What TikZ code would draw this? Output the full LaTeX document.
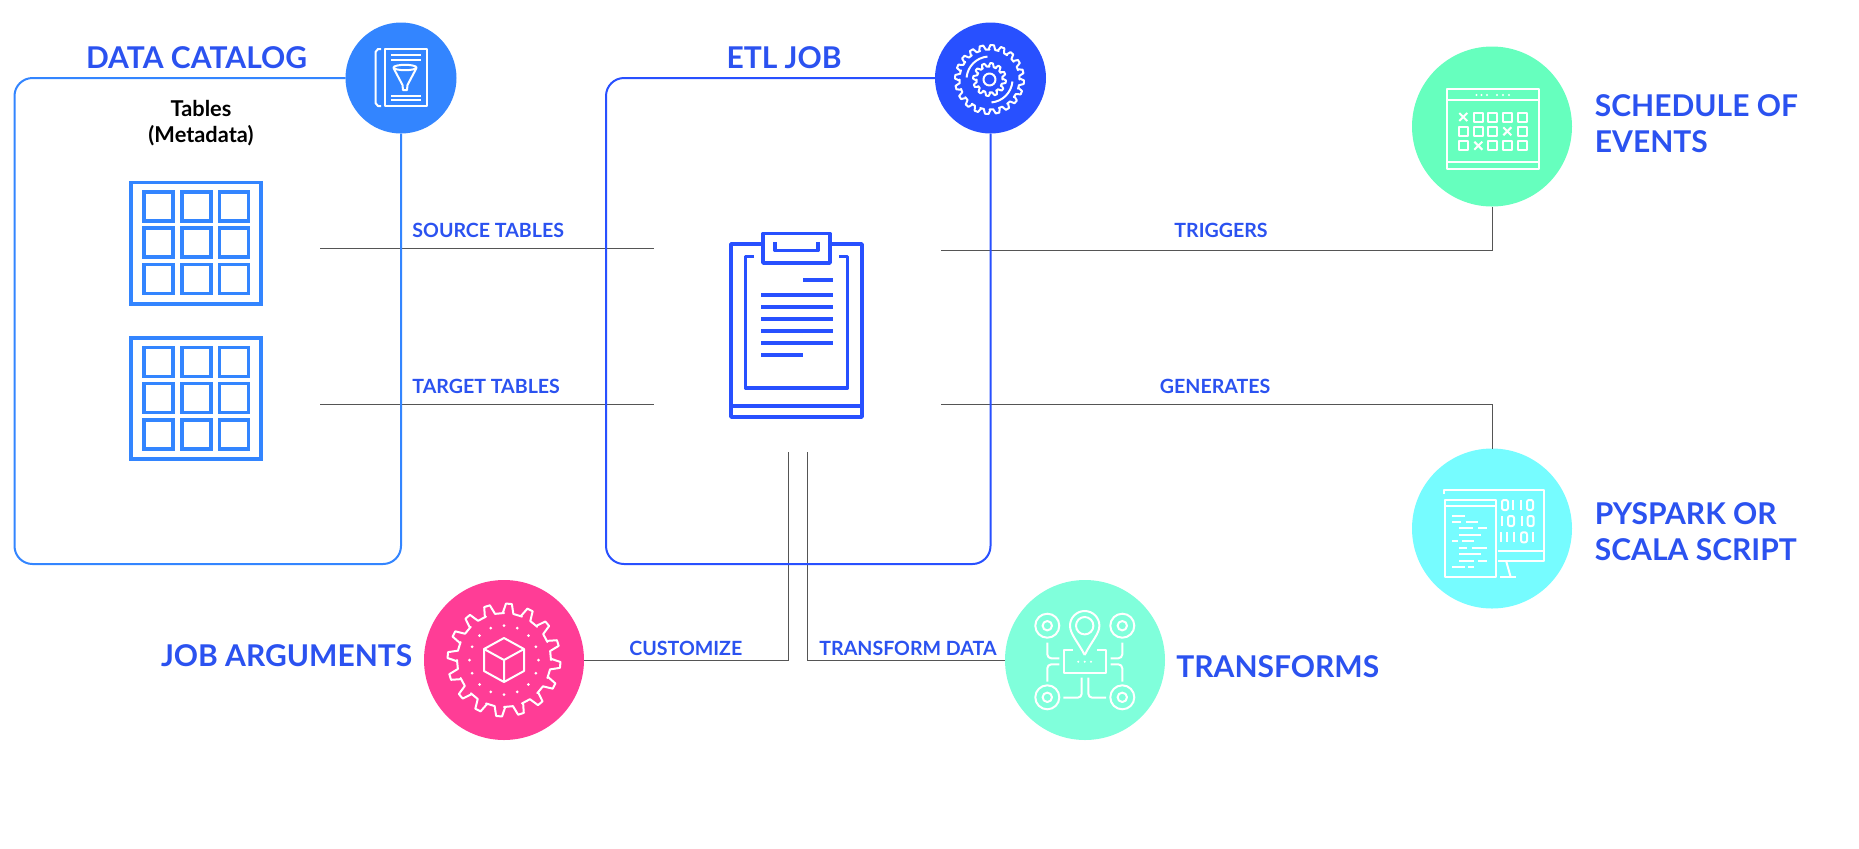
\documentclass[tikz,border=0pt]{standalone}
\usepackage{fontspec}
\setmainfont{Lato}
\usepackage{tikz}
\definecolor{catblue}{HTML}{3385FF}
\definecolor{etlblue}{HTML}{2850FF}
\definecolor{textblue}{HTML}{2B52F0}
\definecolor{schedgreen}{HTML}{66FFBE}
\definecolor{scriptcyan}{HTML}{76FCFF}
\definecolor{argpink}{HTML}{FF3D96}
\definecolor{transmint}{HTML}{80FFDB}
\definecolor{wiregray}{HTML}{555555}
\tikzset{
    hub/.style={shape=circle, minimum size=160*0.5pt, inner sep=0pt, outer sep=0pt},
    smallhub/.style={shape=circle, minimum size=111*0.5pt, inner sep=0pt, outer sep=0pt},
    bigtitle/.style={text=textblue, font=\bfseries\fontsize{15}{18}\selectfont, inner sep=0pt, align=left},
    wirelabel/.style={text=textblue, font=\bfseries\fontsize{9.8}{12}\selectfont, inner sep=0pt},
    tablecap/.style={text=black, font=\bfseries\fontsize{10.9}{13.3}\selectfont, inner sep=0pt, align=center},
    wire/.style={draw=wiregray, line width=0.5pt},
    framebox/.style={line width=1pt, rounded corners=9pt},
    iconline/.style={draw=white, line width=1pt, line join=round},
    tableline/.style={draw=catblue, line width=1.9pt},
    clipline/.style={draw=etlblue, line width=1.85pt, line join=round}
}
\begin{document}
\begin{tikzpicture}[x=0.5pt, y=-0.5pt]
    \useasboundingbox (0, 0) rectangle (1859, 848);

    \node[hub, fill=schedgreen] (schedule) at (1492, 126.5) {};
    \node[hub, fill=scriptcyan] (script) at (1492, 528.5) {};
    \node[hub, fill=argpink] (arguments) at (504, 660) {};
    \node[hub, fill=transmint] (transforms) at (1085, 660) {};
    \node[smallhub, fill=catblue] (catalog) at (401, 78) {};
    \node[smallhub, fill=etlblue] (etl) at (990.5, 78) {};

    \coordinate (sourceL) at (320, 248.2);
    \coordinate (sourceR) at (654, 248.2);
    \coordinate (targetL) at (320, 404.4);
    \coordinate (targetR) at (654, 404.4);
    \coordinate (triggerL) at (941, 250.5);
    \coordinate (generateL) at (941, 404.4);
    \coordinate (customizeT) at (788, 452);
    \coordinate (transformT) at (807, 452);

    \path [wire] (sourceL) edge (sourceR);
    \path [wire] (targetL) edge (targetR);
    \draw [wire] (triggerL) -| (schedule.south);
    \draw [wire] (generateL) -| (script.north);
    \draw [wire] (customizeT) |- (arguments.east);
    \draw [wire] (transformT) |- (transforms.west);

    \draw [framebox, draw=catblue] (catalog.west) -- (14.5, 78) -- (14.5, 564) -- (401, 564) -- (catalog.south);
    \draw [framebox, draw=etlblue] (etl.west) -- (606, 78) -- (606, 564) -- (990.5, 564) -- (etl.south);

    \node[bigtitle] (catalogtitle) at (196.5, 58) {DATA CATALOG};
    \node[bigtitle] (etltitle) at (784, 58) {ETL JOB};
    \node[tablecap] (tablecap) at (201, 123) {Tables\\(Metadata)};
    \node[wirelabel, anchor=west] (sourcelabel) at (412, 230) {SOURCE TABLES};
    \node[wirelabel, anchor=west] (targetlabel) at (412, 386.6) {TARGET TABLES};
    \node[wirelabel, anchor=west] (triggerlabel) at (1174, 230.5) {TRIGGERS};
    \node[wirelabel, anchor=west] (generatelabel) at (1159.5, 386.6) {GENERATES};
    \node[wirelabel, anchor=west] (customizelabel) at (629, 648) {CUSTOMIZE};
    \node[wirelabel, anchor=west] (transformlabel) at (819, 648) {TRANSFORM DATA};
    \node[bigtitle, anchor=west] (scheduletitle) at (1594.5, 124) {SCHEDULE OF\\EVENTS};
    \node[bigtitle, anchor=west] (scripttitle) at (1594.5, 531.7) {PYSPARK OR\\SCALA SCRIPT};
    \node[bigtitle, anchor=east] (argumentstitle) at (412.6, 656) {JOB ARGUMENTS};
    \node[bigtitle, anchor=west] (transformstitle) at (1176, 666.7) {TRANSFORMS};

    % tables
    \foreach \ty in {0, 155.6} {
        \draw [tableline] (131, 182.5+\ty) rectangle (261, 303.6+\ty);
        \foreach \cx in {144, 182, 219.5} {
            \foreach \cy in {192, 228, 264.5} {
                \draw [tableline, line width=1.7pt] (\cx, \cy+\ty) rectangle (\cx+29, \cy+29+\ty);
            }
        }
    }

    % clipboard
    \draw [clipline] (763, 244) -- (731, 244) -- (731, 417) -- (862, 417) -- (862, 244) -- (830, 244);
    \draw [clipline] (731, 406) -- (862, 406);
    \draw [clipline] (763, 233.5) rectangle (830, 263);
    \draw [clipline] (775, 242) -- (775, 250.5) -- (818, 250.5) -- (818, 242);
    \draw [clipline] (754, 256.5) -- (745.5, 256.5) -- (745.5, 388) -- (847.5, 388) -- (847.5, 256.5) -- (839, 256.5);
    \draw [clipline] (803, 280) -- (833, 280);
    \foreach \ly in {295, 307, 319, 331, 343} {
        \draw [clipline] (761, \ly) -- (833, \ly);
    }
    \draw [clipline] (761, 355) -- (803, 355);

    % catalog icon
    \draw [iconline] (384.5, 49) rectangle (426.5, 106);
    \draw [iconline] (381, 49) -- (378, 49) -- (375.5, 52) -- (375.5, 103) -- (378, 106) -- (381, 106);
    \foreach \ly in {55, 59.5, 95.5, 100} {
        \draw [iconline] (391, \ly) -- (421, \ly);
    }
    \draw [iconline] (405, 67.5) ellipse (11.5 and 2.7);
    \draw [iconline] (393.5, 68) -- (402.5, 85) -- (403, 90) -- (407, 90) -- (407.5, 85) -- (416.5, 68);

    % etl gears
    \begin{scope}[shift={(989.5, 79.5)}]
        \draw [iconline] (0:30) \foreach \a in {0, 18, ..., 342} {
            -- (\a-2:30) -- (\a+1.5:34.5) -- (\a+7.5:34.5) -- (\a+11:30) -- (\a+18:30)
        } -- cycle;
        \draw [iconline] (0:13) \foreach \a in {0, 30, ..., 330} {
            -- (\a-4:13) -- (\a+3:16.5) -- (\a+12:16.5) -- (\a+19:13) -- (\a+30:13)
        } -- cycle;
        \draw [iconline] (0, 0) circle (6);
        \draw [iconline] (-95:23) arc (-95:-175:23);
        \draw [iconline] (85:23) arc (85:5:23);
    \end{scope}

    % calendar icon
    \draw [iconline] (1446.5, 89) rectangle (1538.5, 168.5);
    \draw [iconline] (1446.5, 100) -- (1538.5, 100);
    \draw [iconline] (1446.5, 161.5) -- (1538.5, 161.5);
    \foreach \dx in {1476.5, 1481.5, 1487, 1497, 1503, 1509} {
        \fill [white] (\dx, 95) circle (1.1);
    }
    \foreach \cx/\cy/\mk in {1463.3/117/x, 1478.3/117/o, 1492.7/117/o, 1507.3/117/o, 1522/117/o,
                             1463.3/131.3/o, 1478.3/131.3/o, 1492.7/131.3/o, 1507.3/131.3/x, 1522/131.3/o,
                             1463.3/145.7/o, 1478.3/145.7/x, 1492.7/145.7/o, 1507.3/145.7/o, 1522/145.7/o} {
        \if\mk x
            \draw [iconline] (\cx-4, \cy-4) -- (\cx+4, \cy+4) (\cx-4, \cy+4) -- (\cx+4, \cy-4);
        \else
            \draw [iconline] (\cx-4.5, \cy-4.5) rectangle (\cx+4.5, \cy+4.5);
        \fi
    }

    % script icon
    \draw [iconline] (1443.5, 494) -- (1443.5, 490) -- (1543.5, 490) -- (1543.5, 560.5) -- (1497.5, 560.5);
    \draw [iconline] (1497.5, 551) -- (1543.5, 551);
    \draw [iconline] (1506, 560.5) -- (1510.5, 576.5);
    \draw [iconline] (1500, 576.5) -- (1515.5, 576.5);
    \draw [iconline] (1444.5, 499.5) rectangle (1496, 576.5);
    \draw [iconline] (1444.5, 506) -- (1496, 506);
    \foreach \xa/\xb/\ly in {127/165/213, 127/152/232, 167/203/232, 147/190/250, 205/232/250,
                             147/213/270, 127/145/289, 157/193/289, 147/172/309, 185/232/309,
                             147/213/328, 147/193/347, 205/232/347, 127/165/366, 175/193/366} {
        \draw [iconline] (1410+\xa/3, 445+\ly/3) -- (1410+\xb/3, 445+\ly/3);
    }
    \foreach \bx/\by in {310/180, 333/180, 275/228, 335/228, 272/277, 290/277, 312/277, 370/277} {
        \draw [iconline] (1410+\bx/3, 445+\by/3-5) -- (1410+\bx/3, 445+\by/3+5);
    }
    \foreach \bx/\by in {285/180, 360/180, 303/228, 362/228, 342/277} {
        \draw [iconline, rounded corners=1pt] (1410+\bx/3-3, 445+\by/3-5) rectangle (1410+\bx/3+3, 445+\by/3+5);
    }

    % arguments icon
    \begin{scope}[shift={(504, 660)}]
        \draw [iconline] (0:47) \foreach \a in {0, 22.5, ..., 337.5} {
            -- (\a-1.5:47) -- (\a+2:56.5) -- (\a+8:56.5) -- (\a+11.5:47) -- (\a+22.5:47)
        } -- cycle;
        \foreach \a in {0, 22.5, ..., 337.5} {
            \fill [white] (\a:34.5) circle (1.5);
        }
        \draw [iconline] (0, -22) -- (20, -11) -- (20, 11) -- (0, 22) -- (-20, 11) -- (-20, -11) -- cycle;
        \draw [iconline] (-20, -11) -- (0, 0) -- (20, -11) (0, 0) -- (0, 22);
    \end{scope}

    % transforms icon
    \foreach \tx/\ty in {1047.3/625.7, 1122.3/625.7, 1047.3/697.3, 1122.3/697.3} {
        \draw [iconline] (\tx, \ty) circle (12);
        \draw [iconline] (\tx, \ty) circle (4.7);
    }
    \draw [iconline] (1084.7, 625.7) circle (8.7);
    \draw [iconline] (1084.7, 655) .. controls (1078, 642) and (1070, 634) .. (1070, 625.7)
        arc (180:360:14.7) .. controls (1099.4, 634) and (1091, 642) .. (1084.7, 655);
    \draw [iconline] (1073, 650) -- (1064, 650) -- (1064, 672.7) -- (1105.7, 672.7) -- (1105.7, 650) -- (1096.7, 650);
    \foreach \dx in {1078.3, 1084.7, 1091} {
        \fill [white] (\dx, 661.7) circle (1.1);
    }
    \draw [iconline, rounded corners=2pt] (1047.3, 642.7) -- (1047.3, 658.3) -- (1059.3, 658.3);
    \draw [iconline, rounded corners=2pt] (1122.3, 642.7) -- (1122.3, 658.3) -- (1110.7, 658.3);
    \draw [iconline, rounded corners=2pt] (1059.3, 664.3) -- (1047.3, 664.3) -- (1047.3, 681.7);
    \draw [iconline, rounded corners=2pt] (1110.7, 664.3) -- (1122.3, 664.3) -- (1122.3, 681.7);
    \draw [iconline, rounded corners=2pt] (1081.7, 677.7) -- (1081.7, 697.7) -- (1063.3, 697.7);
    \draw [iconline, rounded corners=2pt] (1088.3, 677.7) -- (1088.3, 697.7) -- (1106, 697.7);
\end{tikzpicture}
\end{document}
